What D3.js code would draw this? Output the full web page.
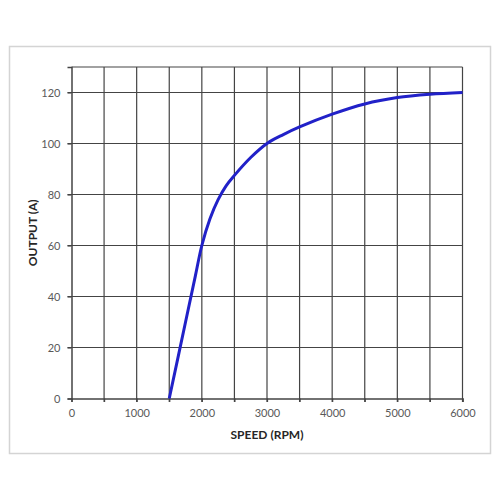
<!DOCTYPE html>
<head>
  <meta charset="utf-8">
  <script src="https://d3js.org/d3.v7.min.js"></script>
  <style>
    body { margin:0; background:#fff; }
    svg { display:block; }
    .tick text { fill:#595959; font-size:11px; font-family:Lato, "Open Sans", sans-serif; }
    .axis-title { font-family:Lato, "Open Sans", sans-serif; font-weight:bold; font-size:12px; fill:#262626; }
  </style>
</head>
<body>
<div id="chart"></div>
<script>

  // speed (rpm) vs output (A)
  var speed  = [1500, 1750, 1900, 2000, 2125, 2250, 2375, 2500, 2750, 3000, 3250, 3500, 4000, 4500, 5000, 5500, 6000];
  var output = [0, 30, 48, 60, 70.5, 78, 83.5, 87.5, 94.5, 100, 103.5, 106.5, 111.5, 115.5, 118, 119.3, 120];

  var xTicks = [0, 1000, 2000, 3000, 4000, 5000, 6000];
  var yTicks = [0, 20, 40, 60, 80, 100, 120];

  var width = 500, height = 500;
  var margin = {left: 71.5, right: 37.5, top: 67, bottom: 101.5};

  var svg = d3.select("#chart").append("svg")
    .attr("width", width)
    .attr("height", height);

  // outer frame
  svg.append("rect")
    .attr("x", 9.5).attr("y", 46.5)
    .attr("width", 481).attr("height", 407)
    .attr("fill", "none")
    .attr("stroke", "#d4d4d4")
    .attr("stroke-width", 1.5);

  var x = d3.scaleLinear().domain([0, 6000]).range([margin.left, width - margin.right]);
  var y = d3.scaleLinear().domain([0, 130]).range([height - margin.bottom, margin.top]);

  // grid
  var g = svg.append("g");
  g.selectAll("line.v")
    .data(d3.range(500, 6001, 500))
    .enter().append("line")
      .attr("x1", function(d) { return x(d); })
      .attr("x2", function(d) { return x(d); })
      .attr("y1", y(0) + 3.5)
      .attr("y2", y(130))
      .attr("stroke", "#444")
      .attr("stroke-width", 1.2);
  g.selectAll("line.h")
    .data(d3.range(20, 121, 20).concat([130]))
    .enter().append("line")
      .attr("x1", function(d) { return d == 130 ? x(0) : x(0) - 4; })
      .attr("x2", x(6000))
      .attr("y1", function(d) { return y(d); })
      .attr("y2", function(d) { return y(d); })
      .attr("stroke", "#444")
      .attr("stroke-width", 1.2);

  // axes
  var xAxis = svg.append("g")
    .attr("transform", "translate(0," + y(0) + ")")
    .call(d3.axisBottom(x).tickValues(d3.range(0, 6001, 500)).tickSize(3.5).tickFormat(function(d) {
      return xTicks.indexOf(d) >= 0 ? d : "";
    }));
  var yAxis = svg.append("g")
    .attr("transform", "translate(" + x(0) + ",0)")
    .call(d3.axisLeft(y).tickValues(yTicks).tickSize(4).tickPadding(7));

  [xAxis, yAxis].forEach(function(a) {
    a.select(".domain").attr("stroke", "#444").attr("stroke-width", 1.5);
    a.selectAll(".tick line").attr("stroke", "#444").attr("stroke-width", 1.2);
  });
  xAxis.selectAll(".tick text").attr("dy", "1.05em");

  // titles
  svg.append("text").attr("class", "axis-title")
    .attr("x", (x(0) + x(6000)) / 2).attr("y", 439)
    .attr("text-anchor", "middle")
    .text("SPEED (RPM)");
  svg.append("text").attr("class", "axis-title")
    .attr("transform", "translate(37," + (y(0) + y(130)) / 2 + ") rotate(-90)")
    .attr("text-anchor", "middle")
    .text("OUTPUT (A)");

  // curve
  var line = d3.line()
    .x(function(d, i) { return x(speed[i]); })
    .y(function(d) { return y(d); })
    .curve(d3.curveCatmullRom.alpha(0.5));

  svg.append("path")
    .datum(output)
    .attr("d", line)
    .attr("fill", "none")
    .attr("stroke", "#2121c8")
    .attr("stroke-width", 3);

</script>
</body>
